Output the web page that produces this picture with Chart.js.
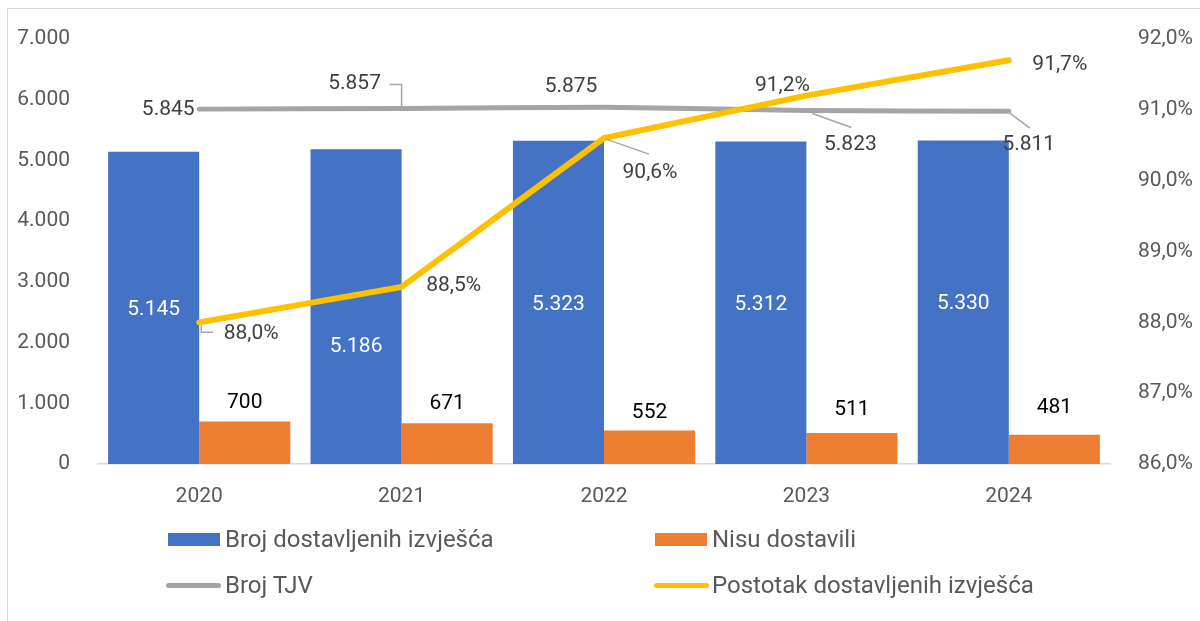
<!DOCTYPE html>
<html>
<head>
<meta charset="utf-8">
<script src="https://cdn.jsdelivr.net/npm/chart.js@4/dist/chart.umd.min.js"></script>
<style>
  html, body { margin: 0; padding: 0; background: #fff; overflow: hidden; }
  #wrap { position: relative; width: 1200px; height: 621px; font-family: Roboto, sans-serif; }
  #frame { position: absolute; left: 7px; top: 8px; width: 1300px; height: 700px;
           border-left: 1px solid #d9d9d9; border-top: 1px solid #d9d9d9; }
  canvas { position: absolute; left: 0; top: 0; }
  .lg { position: absolute; font-size: 24px; line-height: 28px; color: #595959; white-space: nowrap; }
  .sw { position: absolute; }
</style>
</head>
<body>
<div id="wrap">
  <div id="frame"></div>
  <canvas id="myChart" width="1200" height="621"></canvas>
  <div class="sw" style="left:168px;top:533px;width:52px;height:13px;background:#4472c4"></div>
  <div class="lg" style="left:225px;top:525px">Broj dostavljenih izvješća</div>
  <div class="sw" style="left:655px;top:533px;width:52px;height:13px;background:#ed7d31"></div>
  <div class="lg" style="left:712px;top:525px">Nisu dostavili</div>
  <div class="sw" style="left:166px;top:583px;width:55px;height:5px;border-radius:3px;background:#a5a5a5"></div>
  <div class="lg" style="left:225px;top:571px">Broj TJV</div>
  <div class="sw" style="left:654px;top:583px;width:55px;height:5px;border-radius:3px;background:#ffc000"></div>
  <div class="lg" style="left:712px;top:571px">Postotak dostavljenih izvješća</div>
</div>
<script>
var years = ["2020", "2021", "2022", "2023", "2024"];
var dostavljeni = [5145, 5186, 5323, 5312, 5330];
var nisuDostavili = [700, 671, 552, 511, 481];
var brojTJV = [5845, 5857, 5875, 5823, 5811];
var postotak = [88.0, 88.5, 90.6, 91.2, 91.7];
var leftTicks = [0, 1000, 2000, 3000, 4000, 5000, 6000, 7000];
var rightTicks = [86, 87, 88, 89, 90, 91, 92];

function thousands(n) {
    return String(n).replace(/\B(?=(\d{3})+(?!\d))/g, ".");
}
function pct(n) {
    return n.toFixed(1).replace(".", ",") + "%";
}

// where each value label sits, relative to its bar / point (offsets + leader lines)
var spots = {
    0: [{dy: 2}, {dy: 40}, {dy: 2}, {dy: 2}, {dy: 2}],
    1: [{dy: -19}, {dy: -20}, {dy: -18}, {dy: -23}, {dy: -27}],
    2: [{dx: -31, dy: 1},
        {dx: -47, dy: -25, lead: [[0, -2], [0, -24], [-12, -24]]},
        {dx: -33, dy: -21},
        {dx: 44, dy: 34, lead: [[6, 3], [45, 17]]},
        {dx: 20, dy: 34, lead: [[1, 2], [21, 17]]}],
    3: [{dx: 52, dy: 11, lead: [[2, 3], [2, 10], [14, 10]]},
        {dx: 52, dy: -1},
        {dx: 46, dy: 35, lead: [[2, 1], [45, 16]]},
        {dx: -24, dy: -10},
        {dx: 51, dy: 4}]
};

var labelPlugin = {
    id: "valueLabels",
    afterDatasetsDraw: function(chart) {
        var ctx = chart.ctx;
        ctx.save();
        ctx.font = "21px Roboto";
        ctx.textAlign = "center";
        ctx.textBaseline = "middle";
        chart.data.datasets.forEach(function(ds, i) {
            var meta = chart.getDatasetMeta(i);
            meta.data.forEach(function(el, j) {
                var s = spots[i][j];
                var x, y, txt;
                if (i == 0) {
                    x = el.x; y = (el.y + el.base) / 2 + s.dy;
                    ctx.fillStyle = "#ffffff"; txt = thousands(ds.data[j]);
                } else if (i == 1) {
                    x = el.x; y = el.y + s.dy;
                    ctx.fillStyle = "#000000"; txt = thousands(ds.data[j]);
                } else {
                    x = el.x + s.dx; y = el.y + s.dy;
                    ctx.fillStyle = "#404040";
                    txt = i == 2 ? thousands(ds.data[j]) : pct(ds.data[j]);
                    if (s.lead) {
                        ctx.strokeStyle = "#a6a6a6";
                        ctx.lineWidth = 1.5;
                        ctx.beginPath();
                        s.lead.forEach(function(p, k) {
                            if (k == 0) ctx.moveTo(el.x + p[0], el.y + p[1]);
                            else ctx.lineTo(el.x + p[0], el.y + p[1]);
                        });
                        ctx.stroke();
                    }
                }
                ctx.fillText(txt, x, y);
            });
        });
        ctx.restore();
    }
};

Chart.defaults.font.family = "Roboto";
Chart.defaults.font.size = 21;
Chart.defaults.color = "#595959";

new Chart(document.getElementById("myChart"), {
    type: "bar",
    data: {
        labels: years,
        datasets: [
            {label: "Broj dostavljenih izvješća", data: dostavljeni, backgroundColor: "#4472c4",
             yAxisID: "y", order: 2, categoryPercentage: 0.9, barPercentage: 1.0},
            {label: "Nisu dostavili", data: nisuDostavili, backgroundColor: "#ed7d31",
             yAxisID: "y", order: 3, categoryPercentage: 0.9, barPercentage: 1.0},
            {type: "line", label: "Broj TJV", data: brojTJV, borderColor: "#a5a5a5", borderWidth: 5,
             pointRadius: 0, tension: 0.3, borderCapStyle: "round", yAxisID: "y", order: 1},
            {type: "line", label: "Postotak dostavljenih izvješća", data: postotak, borderColor: "#ffc000",
             borderWidth: 6, pointRadius: 0, tension: 0, borderCapStyle: "round", yAxisID: "y1", order: 0}
        ]
    },
    options: {
        responsive: false,
        animation: false,
        layout: {padding: {top: 39, bottom: 97, left: 0, right: 0}},
        plugins: {legend: {display: false}, tooltip: {enabled: false}},
        scales: {
            x: {
                grid: {display: false},
                border: {display: true, color: "#d9d9d9", width: 1.5},
                ticks: {padding: 12, color: "#595959"},
                afterFit: function(scale) { scale.height = 60; }
            },
            y: {
                position: "left", min: 0, max: 7000,
                grid: {display: false}, border: {display: false},
                afterBuildTicks: function(scale) { scale.ticks = leftTicks.map(function(v) { return {value: v}; }); },
                ticks: {padding: 20, callback: function(v) { return thousands(v); }},
                afterFit: function(scale) { scale.width = 98; }
            },
            y1: {
                position: "right", min: 86, max: 92,
                grid: {display: false}, border: {display: false},
                afterBuildTicks: function(scale) { scale.ticks = rightTicks.map(function(v) { return {value: v}; }); },
                ticks: {padding: 20, callback: function(v) { return pct(v); }},
                afterFit: function(scale) { scale.width = 90; }
            }
        }
    },
    plugins: [labelPlugin]
});
</script>
</body>
</html>
